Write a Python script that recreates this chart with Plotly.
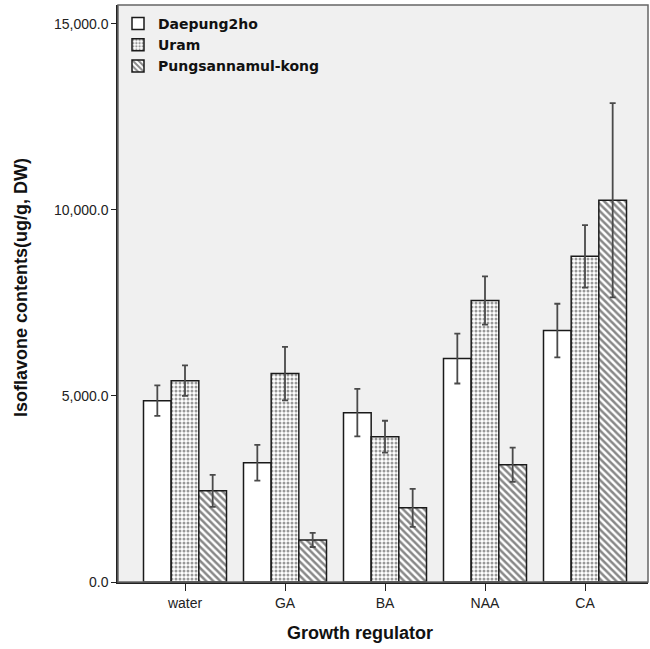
import plotly.graph_objects as go

categories = ["water", "GA", "BA", "NAA", "CA"]
series_names = ["Daepung2ho", "Uram", "Pungsannamul-kong"]
daepung = [4875, 3205, 4552, 6006, 6760]
daepung_err = [410, 480, 640, 670, 720]
uram = [5413, 5602, 3905, 7568, 8753]
uram_err = [410, 720, 430, 650, 840]
pungsan = [2451, 1131, 1993, 3151, 10261]
pungsan_err = [430, 190, 510, 460, 2610]
y_ticks = [0, 5000, 10000, 15000]
y_tick_labels = ["0.0", "5,000.0", "10,000.0", "15,000.0"]

values = [daepung, uram, pungsan]
errors = [daepung_err, uram_err, pungsan_err]
patterns = ["", ".", "\\"]
pat_size = [6, 4, 5]
pat_sol = [0.3, 0.45, 0.5]

fig = go.Figure()
for name, vals, errs, pat, ps, sol in zip(series_names, values, errors, patterns, pat_size, pat_sol):
    fig.add_trace(go.Bar(
        x=categories, y=vals, name=name,
        marker=dict(color="white", line=dict(color="#1a1a1a", width=1.5),
                    pattern=dict(shape=pat, fgcolor="#111111" if pat == "\\" else "#333333",
                                 bgcolor="white", size=ps, solidity=sol)),
        error_y=dict(type="data", array=errs, visible=True, color="#4a4a4a",
                     thickness=1.8, width=3),
    ))

W, H = 650, 649
ml, mr, mt, mb = 118, 2, 5, 67
pw, ph = W - ml - mr, H - mt - mb

fig.update_layout(
    width=W, height=H,
    barmode="group", bargap=0.17, bargroupgap=0,
    paper_bgcolor="white", plot_bgcolor="#f0f0f0",
    margin=dict(l=ml, r=mr, t=mt, b=mb),
    font=dict(family="Liberation Sans, Arial, sans-serif", size=14, color="#222222"),
    showlegend=True,
    legend=dict(x=0.0, y=0.995, xanchor="left", yanchor="top", bgcolor="rgba(0,0,0,0)",
                font=dict(size=14, color="#111111", family="DejaVu Sans, sans-serif", weight="bold"),
                tracegroupgap=0, itemwidth=30, traceorder="normal"),
    xaxis=dict(range=[-0.67, 4.63], showline=True, linecolor="#222222", linewidth=1.5,
               ticks="outside", ticklen=7, tickcolor="#222222", mirror=False,
               tickfont=dict(size=14)),
    yaxis=dict(range=[0, 15510], tickvals=y_ticks, ticktext=y_tick_labels,
               showline=True, linecolor="#222222", linewidth=1.5, showgrid=False, zeroline=False,
               ticks="outside", ticklen=5, tickcolor="#222222",
               tickfont=dict(size=14)),
)
fig.add_shape(type="rect", xref="paper", yref="paper", x0=0, y0=0, x1=1, y1=1,
              line=dict(color="#666666", width=1.5), fillcolor="rgba(0,0,0,0)", layer="above")
fig.add_annotation(text="<b>Isoflavone contents(ug/g, DW)</b>", xref="paper", yref="paper",
                   x=(21 - ml) / pw, y=(H - mb - 288) / ph, textangle=-90, showarrow=False,
                   xanchor="center", yanchor="middle", font=dict(size=18, color="#111111"))
fig.add_annotation(text="<b>Growth regulator</b>", xref="paper", yref="paper",
                   x=(360 - ml) / pw, y=(H - mb - 633) / ph, showarrow=False,
                   xanchor="center", yanchor="middle", font=dict(size=18, color="#111111"))
fig.write_html("out.html", config={"displayModeBar": False},
               post_script="document.body.style.margin='0';document.body.style.overflow='hidden';")
